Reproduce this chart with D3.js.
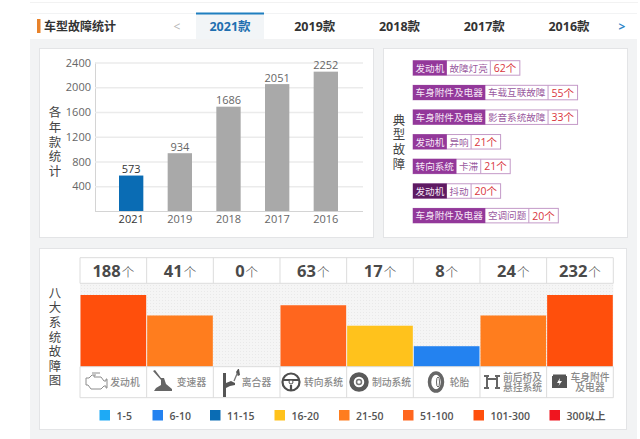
<!DOCTYPE html>
<html>
<head>
<meta charset="utf-8">
<script src="https://cdn.jsdelivr.net/npm/d3@7"></script>
<style>
    html, body { margin: 0; padding: 0; background: #fff; overflow: hidden; }
    svg { display: block; }
    text { font-family: "Open Sans", "Noto Sans CJK SC", sans-serif; }
    .cjk { font-family: "Noto Sans CJK SC", sans-serif; }
</style>
</head>
<body>
<svg width="640" height="439"></svg>
<script>
const tabs = ["2021款", "2019款", "2018款", "2017款", "2016款"];
const years = ["2021", "2019", "2018", "2017", "2016"];
const yearCounts = [573, 934, 1686, 2051, 2252];
const yearTicks = [400, 800, 1200, 1600, 2000, 2400];

const tagSystems = ["发动机", "车身附件及电器", "车身附件及电器", "发动机", "转向系统", "发动机", "车身附件及电器"];
const tagFaults = ["故障灯亮", "车载互联故障", "影音系统故障", "异响", "卡滞", "抖动", "空调问题"];
const tagCounts = [62, 55, 33, 21, 21, 20, 20];

const systems = ["发动机", "变速器", "离合器", "转向系统", "制动系统", "轮胎", "前后桥及\n悬挂系统", "车身附件\n及电器"];
const systemCounts = [188, 41, 0, 63, 17, 8, 24, 232];

const legendLabels = ["1-5", "6-10", "11-15", "16-20", "21-50", "51-100", "101-300", "300以上"];
const legendColors = ["#1eaaf5", "#2382f0", "#0a6cb4", "#ffc21c", "#ff7d1e", "#ff661e", "#ff4f0c", "#f0151f"];
const legendBreaks = [6, 11, 16, 21, 51, 101, 301];

const svg = d3.select("svg");

// page background and cards
svg.append("rect").attr("x", 30).attr("y", 2).attr("width", 608).attr("height", 1).attr("fill", "#f2f2f2");
svg.append("rect").attr("x", 30).attr("y", 13).attr("width", 607).attr("height", 426).attr("fill", "#f2f3f4");

function card(x, y, w, h) {
    svg.append("rect")
        .attr("x", x + 0.5).attr("y", y + 0.5)
        .attr("width", w).attr("height", h)
        .attr("fill", "#fff")
        .attr("stroke", "#e3e4e6");
}
card(39, 48, 334, 189);
card(383, 48, 244, 189);
card(39, 248, 587, 181);

// header with tabs
svg.append("rect").attr("x", 30).attr("y", 14).attr("width", 607).attr("height", 25).attr("fill", "#fff");
svg.append("rect").attr("x", 37).attr("y", 19).attr("width", 3.5).attr("height", 14).attr("fill", "#e8822a");
svg.append("text").attr("class", "cjk")
    .attr("x", 44).attr("y", 31)
    .attr("font-size", 12).attr("font-weight", 700).attr("fill", "#333")
    .text("车型故障统计");
svg.append("rect").attr("x", 196).attr("y", 14).attr("width", 68).attr("height", 25).attr("fill", "#f2f5f7");
svg.append("rect").attr("x", 196).attr("y", 12.5).attr("width", 68).attr("height", 2).attr("fill", "#1f7fc0");

const tabX = d3.scalePoint().domain(tabs).range([230, 569]);
svg.append("g").selectAll("text")
    .data(tabs)
    .join("text")
    .attr("x", d => tabX(d))
    .attr("y", 31)
    .attr("text-anchor", "middle")
    .attr("font-size", 12.5)
    .attr("font-weight", 700)
    .attr("fill", (d, i) => i === 0 ? "#1f6fb0" : "#333")
    .text(d => d);
svg.append("text").attr("x", 177).attr("y", 31).attr("text-anchor", "middle")
    .attr("font-size", 12).attr("fill", "#b5b5b5").text("<");
svg.append("text").attr("x", 622).attr("y", 31).attr("text-anchor", "middle")
    .attr("font-size", 12).attr("font-weight", 700).attr("fill", "#2f86c8").text(">");

// vertical titles: one text each, the spacing gives the reference's pitch
function verticalTitle(chars, x, yMid) {
    svg.append("text")
        .attr("class", "cjk")
        .attr("transform", `translate(${x},${yMid})`)
        .attr("text-anchor", "middle")
        .style("writing-mode", "vertical-rl")
        .style("letter-spacing", "2.2px")
        .attr("font-size", 12.4)
        .attr("fill", "#444")
        .text(chars);
}
verticalTitle("各年款统计", 55, 143);
verticalTitle("典型故障", 399, 143);
verticalTitle("八大系统故障图", 55, 338);

// yearly bars
const x = d3.scaleBand().domain(years).range([119, 338]).paddingInner(0.5).paddingOuter(0);
const y = d3.scaleLinear().domain([0, 2400]).range([211, 62.5]);

const yAxis = svg.append("g")
    .attr("transform", "translate(95,0)")
    .call(d3.axisLeft(y).tickValues(yearTicks).tickSize(-268).tickPadding(4).tickFormat(d3.format("d")));
yAxis.select(".domain").attr("stroke", "#d4d4d4").attr("d", "M0.5,62.5V211");
yAxis.selectAll("line").attr("stroke", "#ebebeb").attr("stroke-width", 1.5);
yAxis.selectAll("text").attr("font-size", 11).attr("fill", "#666");

const xAxis = svg.append("g")
    .attr("transform", "translate(0,211)")
    .call(d3.axisBottom(x).tickSize(0).tickPadding(4));
xAxis.select(".domain").attr("stroke", "#d4d4d4").attr("d", "M95,0.5H363");
xAxis.selectAll("text")
    .attr("font-size", 11)
    .attr("fill", (d, i) => i === 0 ? "#333" : "#666");

svg.append("g").selectAll("rect")
    .data(years)
    .join("rect")
    .attr("x", d => x(d))
    .attr("y", (d, i) => y(yearCounts[i]))
    .attr("width", x.bandwidth())
    .attr("height", (d, i) => 211 - y(yearCounts[i]))
    .attr("fill", (d, i) => i === 0 ? "#0a6cb4" : "#a9a9a9");

svg.append("g").selectAll("text")
    .data(years)
    .join("text")
    .attr("x", d => x(d) + x.bandwidth() / 2)
    .attr("y", (d, i) => y(yearCounts[i]) - 2.5)
    .attr("text-anchor", "middle")
    .attr("font-size", 11)
    .attr("fill", (d, i) => i === 0 ? "#333" : "#666")
    .text((d, i) => yearCounts[i]);

// typical fault tags
const tagY = d3.scaleBand().domain(d3.range(tagFaults.length)).range([60.2, 232.5]).paddingInner(0);
const CHAR_W = 9.62;
const tagRows = svg.append("g").selectAll("g")
    .data(tagFaults)
    .join("g")
    .attr("transform", (d, i) => `translate(413,${tagY(i)})`);

tagRows.each(function (fault, i) {
    const row = d3.select(this);
    const w1 = tagSystems[i].length * CHAR_W + 5;
    const w2 = fault.length * CHAR_W + 5;
    const w3 = 29.5;
    row.append("rect").attr("width", w1 + w2 + w3).attr("y", 0.5).attr("height", 14.5)
        .attr("fill", "#fff").attr("stroke", "#c49ac8");
    row.append("rect").attr("width", w1).attr("height", 15)
        .attr("y", 0.2).attr("fill", i === 5 ? "#5e1a62" : "#93389a");
    row.append("line").attr("x1", w1 + w2).attr("x2", w1 + w2).attr("y1", 0.5).attr("y2", 15)
        .attr("stroke", "#c49ac8");
    row.append("text").attr("class", "cjk").attr("x", w1 / 2).attr("y", 11.5)
        .attr("text-anchor", "middle").attr("font-size", 9.6).attr("fill", "#f5e6f6")
        .text(tagSystems[i]);
    row.append("text").attr("class", "cjk").attr("x", w1 + w2 / 2).attr("y", 11.5)
        .attr("text-anchor", "middle").attr("font-size", 9.6).attr("fill", "#9a5aa0")
        .text(fault);
    row.append("text").attr("x", w1 + w2 + w3 / 2).attr("y", 11.8)
        .attr("text-anchor", "middle").attr("font-size", 10.5).attr("fill", "#d9363e")
        .text(tagCounts[i] + "个");
});

// eight systems grid
const col = d3.scaleBand().domain(systems).range([80, 613.3]);
const level = d3.scaleThreshold().domain(legendBreaks).range(d3.range(1, 9));
const barY = d3.scaleLinear().domain([0, 7]).range([366.7, 295]);

const defs = svg.append("defs");
const dots = defs.append("pattern").attr("id", "dots")
    .attr("width", 3).attr("height", 3).attr("patternUnits", "userSpaceOnUse");
dots.append("rect").attr("width", 3).attr("height", 3).attr("fill", "#f5f5f5");
dots.append("rect").attr("width", 1).attr("height", 1).attr("fill", "#e9e9e9");

svg.append("rect").attr("x", 80).attr("y", 283.3).attr("width", 533.3).attr("height", 83.4).attr("fill", "url(#dots)");

svg.append("g").selectAll("rect")
    .data(systems)
    .join("rect")
    .attr("x", d => col(d) + 0.5)
    .attr("y", (d, i) => barY(systemCounts[i] ? level(systemCounts[i]) : 0))
    .attr("width", col.bandwidth() - 1)
    .attr("height", (d, i) => 366.7 - barY(systemCounts[i] ? level(systemCounts[i]) : 0))
    .attr("fill", (d, i) => systemCounts[i] ? legendColors[level(systemCounts[i]) - 1] : "none");

// grid lines
const gridLines = svg.append("g").attr("stroke", "#dcdcdc").attr("fill", "none");
[257.7, 283.3, 366.7, 397.7].forEach(v => {
    gridLines.append("line").attr("x1", 80).attr("x2", 613.3).attr("y1", v).attr("y2", v);
});
d3.range(systems.length + 1).forEach(i => {
    const px = 80 + i * col.bandwidth();
    gridLines.append("line").attr("x1", px).attr("x2", px).attr("y1", 257.7).attr("y2", 283.3);
    gridLines.append("line").attr("x1", px).attr("x2", px).attr("y1", 366.7).attr("y2", 397.7);
});

const countLabels = svg.append("g").selectAll("text")
    .data(systems)
    .join("text")
    .attr("x", d => col(d) + col.bandwidth() / 2)
    .attr("y", 277)
    .attr("text-anchor", "middle")
    .attr("fill", "#4a4a4a");
countLabels.append("tspan").attr("font-size", 16.5).attr("font-weight", 700).text((d, i) => systemCounts[i]);
countLabels.append("tspan").attr("class", "cjk").attr("dx", 1).attr("font-size", 12.5).attr("font-weight", 300).text("个");

// system labels next to the icons
const labelX = [125, 191.5, 256.5, 323.5, 391.5, 459.5, 522.5, 590];
const labels = svg.append("g").selectAll("text")
    .data(systems)
    .join("text")
    .attr("class", "cjk")
    .attr("text-anchor", "middle")
    .attr("font-size", 9.8)
    .attr("font-weight", 500)
    .attr("fill", "#8a8a8a");
labels.each(function (d, i) {
    const parts = d.split("\n");
    d3.select(this).selectAll("tspan")
        .data(parts)
        .join("tspan")
        .attr("x", labelX[i])
        .attr("y", (p, j) => parts.length === 1 ? 385.5 : 380.5 + j * 10)
        .text(p => p);
});

// icons, hand drawn
const icons = svg.append("g").attr("fill", "none").attr("stroke", "#6e6e6e").attr("stroke-width", 1.3);
icons.append("path").attr("stroke", "#8c8c8c").attr("stroke-width", 1)
    .attr("d", "M86,378v7h2l3,4h10l3,-3h2v2h1v-9h-1v2h-2l-3,-4h-7v-2M92,373h8M96,375h-4l-3,3h-3");
icons.append("path").attr("fill", "#666").attr("stroke", "none")
    .attr("d", "M153,371l2,-1l6,8l3,0l2,6l6,5v2h-18l2,-3l5,-3l0,-5z");
icons.append("path").attr("fill", "#555").attr("stroke", "none")
    .attr("d", "M223,373h3v10l5,-2l4,2v2l-5,1l-4,2v9h-3zM236,372l2,-3h1l1,6l-2,1z");
icons.append("path").attr("stroke", "#777").attr("d", "M234,381l3,-7l1,1");
const wheel = icons.append("g").attr("stroke", "#4e4e4e");
wheel.append("circle").attr("cx", 291).attr("cy", 382).attr("r", 8.5).attr("stroke-width", 2.2);
wheel.append("path").attr("stroke-width", 2.2).attr("d", "M283,380h16M291,385v5");
wheel.append("circle").attr("cx", 291).attr("cy", 382).attr("r", 2).attr("fill", "#fff").attr("stroke-width", 1);
const disc = icons.append("g");
disc.append("circle").attr("cx", 359).attr("cy", 382).attr("r", 7.5).attr("stroke", "#5a5a5a").attr("stroke-width", 4.5);
disc.append("circle").attr("cx", 359).attr("cy", 382).attr("r", 2.5).attr("stroke", "#777").attr("stroke-width", 1.5);
icons.append("ellipse").attr("cx", 436).attr("cy", 382).attr("rx", 6.5).attr("ry", 9)
    .attr("stroke", "#666").attr("stroke-width", 3.5);
icons.append("ellipse").attr("cx", 438).attr("cy", 382).attr("rx", 1.5).attr("ry", 5)
    .attr("fill", "#fff").attr("stroke", "#666").attr("stroke-width", 1);
icons.append("path").attr("stroke", "#666").attr("stroke-width", 2)
    .attr("d", "M487,376v12M497,376v12M487,379h10M484,376h5M495,376h5M484,388h5M495,388h5");
icons.append("rect").attr("x", 552).attr("y", 376).attr("width", 15).attr("height", 12).attr("fill", "#555").attr("stroke", "none");
icons.append("rect").attr("x", 553).attr("y", 374.5).attr("width", 13).attr("height", 1.5).attr("fill", "#555").attr("stroke", "none");
icons.append("path").attr("fill", "#fff").attr("stroke", "none").attr("d", "M560,378l-3,5h2.5l-1,3l3.5,-5h-2.5z");

// legend
const legendX = [99.5, 152.5, 210, 274.5, 339, 403, 473.5, 549.5];
const legend = svg.append("g").selectAll("g")
    .data(legendLabels)
    .join("g")
    .attr("transform", (d, i) => `translate(${legendX[i]},410)`);
legend.append("rect").attr("width", 10.5).attr("height", 10.5).attr("fill", (d, i) => legendColors[i]);
legend.append("text")
    .attr("x", 17).attr("y", 9.5)
    .attr("font-size", 10.5)
    .attr("font-weight", 600)
    .attr("fill", "#555")
    .text(d => d);
</script>
</body>
</html>
